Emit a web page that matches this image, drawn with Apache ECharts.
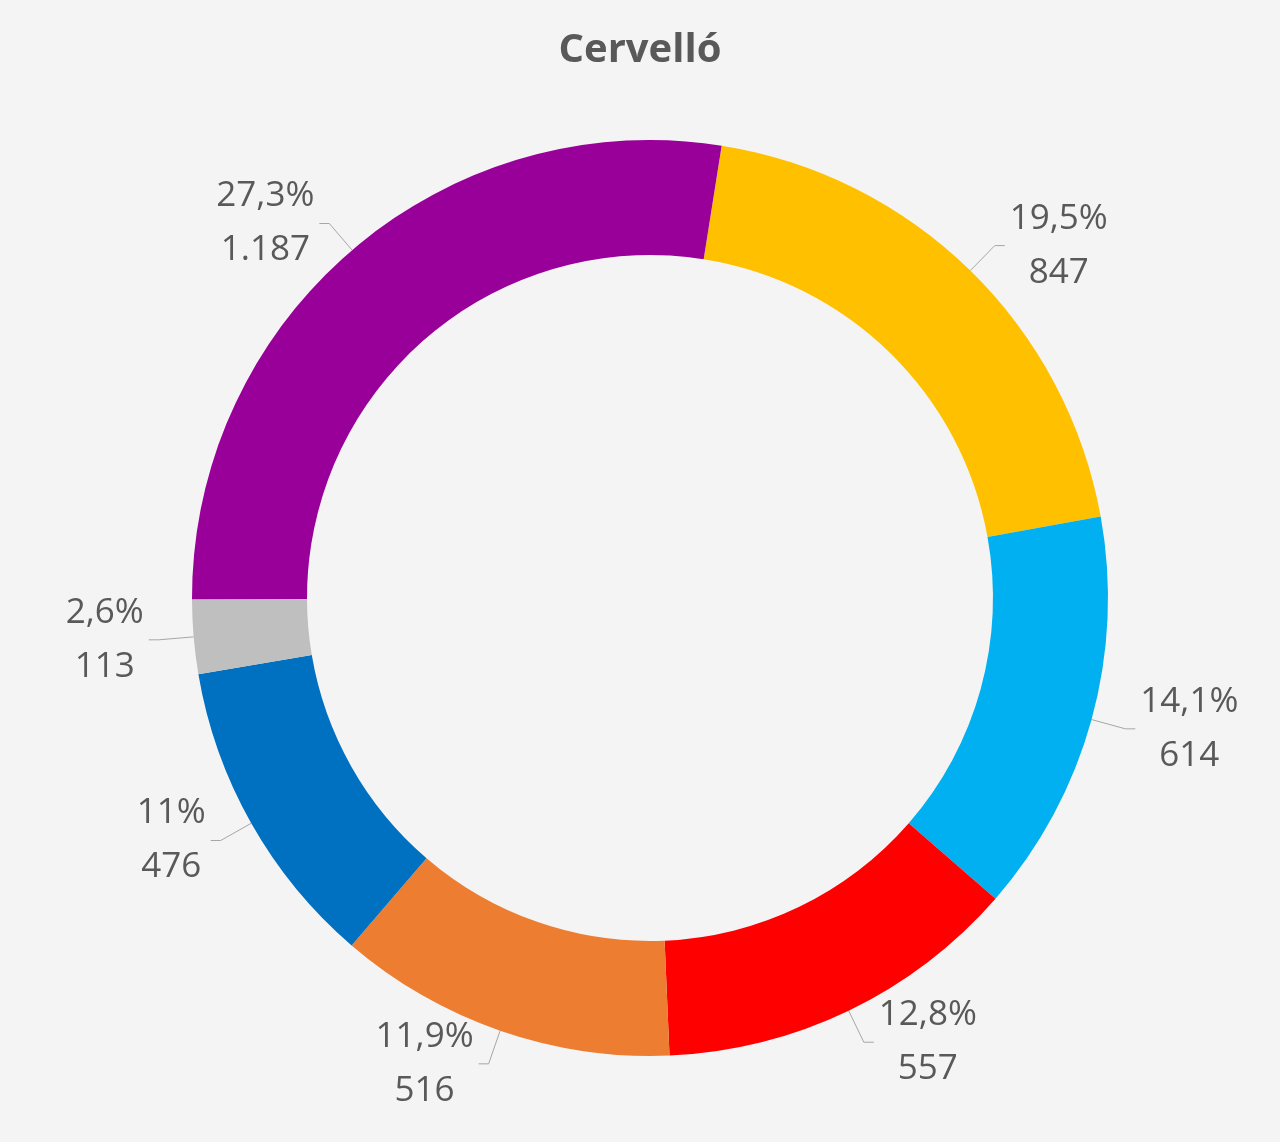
<!DOCTYPE html>
<html><head><meta charset="utf-8">
<script src="https://cdn.jsdelivr.net/npm/echarts@6/dist/echarts.min.js"></script>
<style>html,body{margin:0;background:#f4f4f4}#c{width:1280px;height:1142px}</style>
</head><body><div id="c"></div>
<script>
const categories = ['A','B','C','D','E','F','G'];
const values = [847, 614, 557, 516, 476, 113, 1187];
const percentLabels = ['19,5%','14,1%','12,8%','11,9%','11%','2,6%','27,3%'];
const valueLabels = ['847','614','557','516','476','113','1.187'];
const colors = ['#FFC000','#00B0F0','#FF0000','#ED7D31','#0070C0','#BFBFBF','#990099'];
const chart = echarts.init(document.getElementById('c'));
chart.setOption({
  backgroundColor:'#f4f4f4',
  title:{text:'Cervelló',left:'center',top:26,textStyle:{fontFamily:'Open Sans',fontSize:40,fontWeight:'bold',color:'#595959'}},
  series:[{
    type:'pie',
    center:[650,598],
    radius:[343,458],
    startAngle:81,
    clockwise:true,
    animation:false,
    data:categories.map((c,i)=>({name:c,value:values[i],itemStyle:{color:colors[i]}})),
    label:{show:true,position:'outside',fontFamily:'Open Sans',fontSize:35,lineHeight:54,color:'#595959',
      formatter:p=>'{t|'+percentLabels[p.dataIndex]+'}\n{t|'+valueLabels[p.dataIndex]+'}',
      rich:{t:{fontFamily:'Open Sans',fontSize:35,lineHeight:54,color:'#595959',align:'center'}}},
    labelLine:{show:true,length:35,length2:10,lineStyle:{color:'#a6a6a6',width:1}}
  }]
});
</script></body></html>
